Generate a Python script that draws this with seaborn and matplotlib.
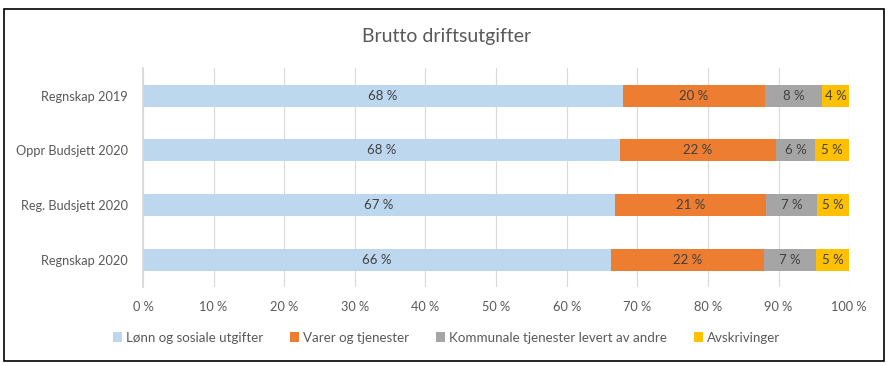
import pandas as pd
import numpy as np
import seaborn as sns
import matplotlib.pyplot as plt
from matplotlib.patches import Rectangle, Patch

# Data (shares in %)
categories = ["Regnskap 2019", "Oppr Budsjett 2020", "Reg. Budsjett 2020", "Regnskap 2020"]
series = ["Lønn og sosiale utgifter", "Varer og tjenester",
          "Kommunale tjenester levert av andre", "Avskrivinger"]
lonn = [67.9, 67.6, 66.8, 66.3]
varer = [20.2, 22.0, 21.4, 21.6]
kommunale = [8.0, 5.6, 7.2, 7.35]
avskr = [3.9, 4.8, 4.6, 4.75]
colors = ["#BDD7EE", "#ED7D31", "#A5A5A5", "#FFC000"]

sns.set_theme(style="white")
plt.rcParams['font.family'] = ['Lato', 'DejaVu Sans']
text_col = "#595959"

df = pd.DataFrame({"kategori": categories, series[0]: lonn, series[1]: varer,
                   series[2]: kommunale, series[3]: avskr})
vals = df[series].to_numpy()
share = vals / vals.sum(axis=1, keepdims=True) * 100
cum_share = share.cumsum(axis=1)

fig = plt.figure(figsize=(8.93, 3.66), dpi=100)
ax = fig.add_axes([0.160, 0.216, 0.791, 0.597])

# stacked bars: draw cumulative totals from largest to smallest
for i in range(len(series) - 1, -1, -1):
    sns.barplot(x=cum_share[:, i], y=df["kategori"], orient="h", color=colors[i],
                width=0.4, ax=ax, saturation=1, linewidth=0)

# value labels
for r in range(len(categories)):
    for i in range(len(series)):
        left = cum_share[r, i] - share[r, i]
        ax.text(left + share[r, i] / 2, r, f"{vals[r, i]:.0f} %", ha="center", va="center",
                fontsize=9.5, color="#404040")

ax.set_xlim(0, 100)
ax.set_ylim(3.5, -0.5)
ax.set_xticks(np.arange(0, 101, 10))
ax.set_xticklabels([f"{t} %" for t in range(0, 101, 10)])
ax.xaxis.grid(True, color="#D9D9D9", linewidth=0.8)
ax.set_axisbelow(True)
ax.set_xlabel("")
ax.set_ylabel("")
ax.tick_params(axis="both", length=0, labelsize=9.2, colors=text_col)
ax.tick_params(axis="y", pad=11)
ax.tick_params(axis="x", pad=10)
for s in ["top", "right", "bottom"]:
    ax.spines[s].set_visible(False)
ax.spines["left"].set_color("#D9D9D9")

fig.text(0.5, 0.9, "Brutto driftsutgifter", ha="center", va="center",
         fontsize=14, color=text_col)

handles = [Patch(facecolor=c, edgecolor="none") for c in colors]
fig.legend(handles, series, loc="center", bbox_to_anchor=(0.5, 0.077), ncol=4,
           frameon=False, fontsize=9.6, labelcolor=text_col, handlelength=0.7,
           handleheight=0.7, handletextpad=0.3, columnspacing=2.0)

# outer frame
fig.add_artist(Rectangle((4 / 893, 1 - 361 / 366), 880 / 893, 352 / 366,
                         transform=fig.transFigure, fill=False, edgecolor="black",
                         linewidth=1.2))

fig.savefig("out.png", dpi=100)
